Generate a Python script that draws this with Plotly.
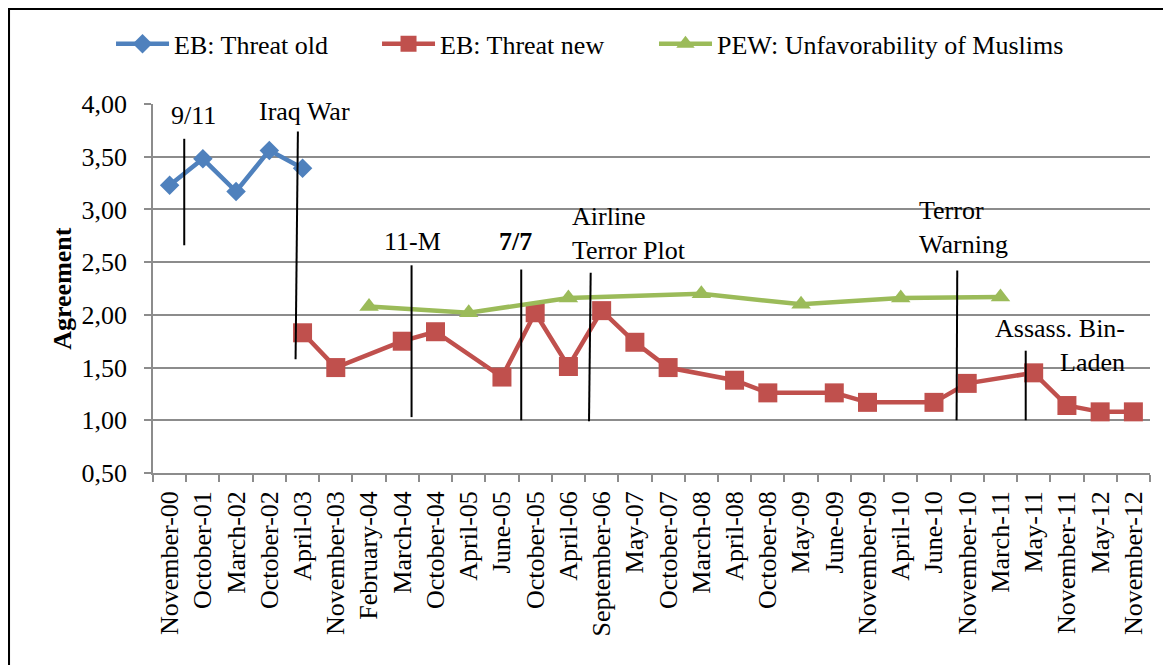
import plotly.graph_objects as go

categories = ["November-00", "October-01", "March-02", "October-02", "April-03",
              "November-03", "February-04", "March-04", "October-04", "April-05",
              "June-05", "October-05", "April-06", "September-06", "May-07",
              "October-07", "March-08", "April-08", "October-08", "May-09",
              "June-09", "November-09", "April-10", "June-10", "November-10",
              "March-11", "May-11", "November-11", "May-12", "November-12"]

eb_old = [3.23, 3.48, 3.17, 3.56, 3.39] + [None] * 25

eb_new = [None, None, None, None, 1.83,
          1.50, None, 1.75, 1.84, None,
          1.41, 2.02, 1.51, 2.04, 1.74,
          1.50, None, 1.38, 1.26, None,
          1.26, 1.17, None, 1.17, 1.35,
          None, 1.45, 1.14, 1.08, 1.08]

pew = [None, None, None, None, None,
       None, 2.08, None, None, 2.02,
       None, None, 2.16, None, None,
       None, 2.20, None, None, 2.10,
       None, None, 2.16, None, None,
       2.17, None, None, None, None]

y_ticks = [0.5, 1.0, 1.5, 2.0, 2.5, 3.0, 3.5, 4.0]

# event marker lines: (x0, y0, x1, y1) in category-index / value units
event_lines = [
    (0.44, 3.67, 0.44, 2.66),
    (3.86, 3.74, 3.79, 1.58),
    (7.28, 2.47, 7.28, 1.03),
    (10.58, 2.43, 10.58, 1.00),
    (12.67, 2.40, 12.62, 0.99),
    (23.70, 2.42, 23.68, 1.00),
    (25.76, 1.66, 25.76, 1.00),
]

FONT = "Liberation Serif"
FS = 26

fig = go.Figure()
fig.add_trace(go.Scatter(
    x=categories, y=eb_old, name="EB: Threat old", mode="lines+markers",
    legend="legend",
    line=dict(color="#4F81BD", width=4.5),
    marker=dict(symbol="diamond", size=15, color="#4F81BD"),
))
fig.add_trace(go.Scatter(
    x=categories, y=eb_new, name="EB: Threat new", mode="lines+markers",
    legend="legend2", connectgaps=True,
    line=dict(color="#C0504D", width=4.5),
    marker=dict(symbol="square", size=19, color="#C0504D"),
))
fig.add_trace(go.Scatter(
    x=categories, y=pew, name="PEW: Unfavorability of Muslims", mode="lines+markers",
    legend="legend3", connectgaps=True,
    line=dict(color="#9BBB59", width=4.5),
    marker=dict(symbol="triangle-up", size=17, color="#9BBB59"),
))

shapes = []
for (x0, y0, x1, y1) in event_lines:
    shapes.append(dict(type="line", xref="x", yref="y", x0=x0, y0=y0, x1=x1, y1=y1,
                       line=dict(color="black", width=2)))

# outer frame (top and left edges)
shapes.append(dict(type="line", xref="paper", yref="paper", x0=-0.16, x1=1.05,
                   y0=1.2588, y1=1.2588, line=dict(color="black", width=3)))
shapes.append(dict(type="line", xref="paper", yref="paper", x0=-0.1449, x1=-0.1449,
                   y0=1.27, y1=-0.6, line=dict(color="black", width=3)))

annotations = [
    dict(text="9/11", x=0.73, y=3.89, xref="x", yref="y", showarrow=False),
    dict(text="Iraq War", x=4.07, y=3.93, xref="x", yref="y", showarrow=False),
    dict(text="11-M", x=7.30, y=2.70, xref="x", yref="y", showarrow=False),
    dict(text="<b>7/7</b>", x=10.42, y=2.70, xref="x", yref="y", showarrow=False),
    dict(text="Airline<br>Terror Plot", x=12.05, y=2.77, xref="x", yref="y",
         showarrow=False, xanchor="left", align="left"),
    dict(text="Terror<br>Warning", x=22.5, y=2.83, xref="x", yref="y",
         showarrow=False, xanchor="left", align="left"),
    dict(text="Assass. Bin-<br>Laden", x=28.82, y=1.71, xref="x", yref="y",
         showarrow=False, xanchor="right", align="right"),
    dict(text="<b>Agreement</b>", x=-0.091, y=0.5, xref="paper", yref="paper",
         showarrow=False, textangle=-90, xanchor="center", yanchor="middle"),
]
for a in annotations:
    a.setdefault("font", dict(size=FS, family=FONT, color="black"))

legend_common = dict(orientation="h", yanchor="middle", xanchor="left", y=1.163,
                     font=dict(size=FS, family=FONT, color="black"),
                     itemwidth=53, bgcolor="rgba(0,0,0,0)", borderwidth=0)

fig.update_layout(
    width=1171, height=665,
    margin=dict(l=145, r=29, t=96, b=200, autoexpand=False),
    paper_bgcolor="white", plot_bgcolor="white",
    separators=",.",
    font=dict(family=FONT, size=FS, color="black"),
    showlegend=True,
    legend=dict(x=-0.0421, **legend_common),
    legend2=dict(x=0.2247, **legend_common),
    legend3=dict(x=0.5025, **legend_common),
    shapes=shapes,
    annotations=annotations,
    xaxis=dict(
        type="category", categoryorder="array", categoryarray=categories,
        range=[-0.5, 29.5], tickangle=-90, showgrid=False,
        showline=True, linecolor="#8C8C8C", linewidth=1.5,
        ticks="outside", tickson="boundaries", ticklen=7, tickcolor="#8C8C8C",
        tickwidth=1.5, ticklabelstandoff=6,
        tickfont=dict(size=FS, family=FONT, color="black"),
    ),
    yaxis=dict(
        range=[0.5, 4.0], tickvals=y_ticks, tickformat=".2f",
        showgrid=True, gridcolor="#8C8C8C", gridwidth=1.5,
        showline=True, linecolor="#8C8C8C", linewidth=1.5,
        ticks="outside", ticklen=7, tickcolor="#8C8C8C", tickwidth=1.5,
        ticklabelstandoff=12, zeroline=False,
        tickfont=dict(size=FS, family=FONT, color="black"),
    ),
)

fig.write_html("out.html")
